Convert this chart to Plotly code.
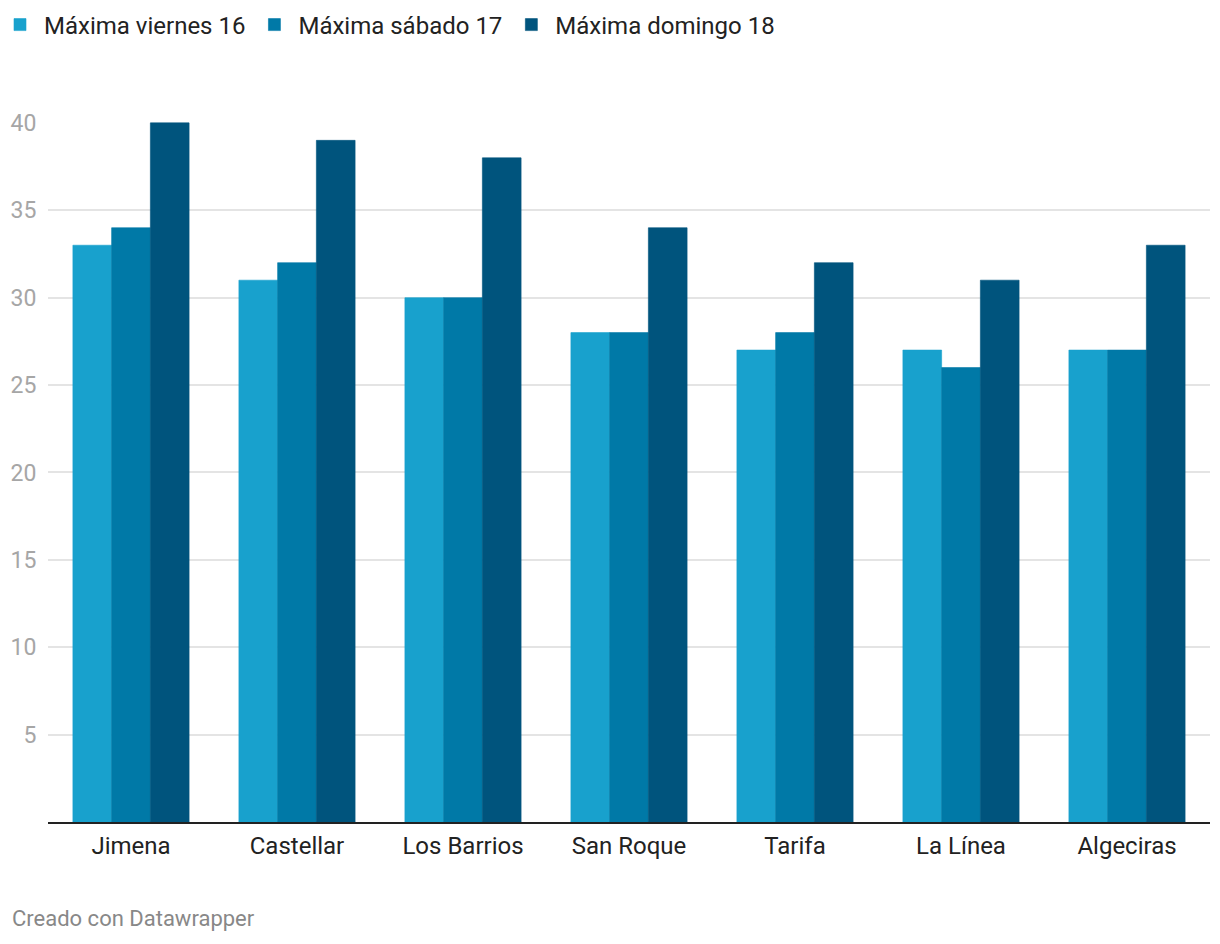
import plotly.graph_objects as go

categories = ["Jimena", "Castellar", "Los Barrios", "San Roque", "Tarifa", "La Línea", "Algeciras"]
viernes = [33, 31, 30, 28, 27, 27, 27]
sabado = [34, 32, 30, 28, 28, 26, 27]
domingo = [40, 39, 38, 34, 32, 31, 33]
series_names = ["Máxima viernes 16", "Máxima sábado 17", "Máxima domingo 18"]
colors = ["#18a1cd", "#0079a7", "#00547d"]
y_ticks = [5, 10, 15, 20, 25, 30, 35, 40]

# page has an 8px body margin, so the figure is sized to fit the window
W, H = 1212, 936
L, T, R, B = 40, 114, 10, 122
plot_w = W - L - R
plot_h = H - T - B

fig = go.Figure()
for name, vals, col in zip(series_names, [viernes, sabado, domingo], colors):
    fig.add_trace(go.Bar(x=categories, y=vals, name=name, marker_color=col,
                         marker_line_width=0.6, marker_line_color=col))

fig.update_layout(
    width=W, height=H,
    paper_bgcolor="white", plot_bgcolor="white",
    font=dict(family="Roboto", color="#222"),
    margin=dict(l=L, r=R, t=T, b=B, autoexpand=False),
    barmode="group", bargap=0.3, bargroupgap=0,
    legend=dict(orientation="h", xref="paper", yref="paper",
                x=-(L + 12) / plot_w, y=1 + (T - 17) / plot_h,
                xanchor="left", yanchor="middle",
                font=dict(size=24, color="#222"), itemwidth=38,
                traceorder="normal", tracegroupgap=0),
    xaxis=dict(showline=True, linecolor="#222", linewidth=2, automargin=False,
               tickfont=dict(size=24, color="#222"), ticks="outside",
               ticklen=1, tickcolor="rgba(0,0,0,0)", showgrid=False),
    yaxis=dict(range=[0, 40.05], tickvals=y_ticks, showgrid=True, automargin=False,
               gridcolor="#e4e4e4", gridwidth=1.5, zeroline=False,
               tickfont=dict(size=23, color="#a6a6a6"), ticks="outside",
               ticklen=6, tickcolor="rgba(0,0,0,0)"),
    showlegend=True,
)
fig.add_annotation(text="Creado con Datawrapper", xref="paper", yref="paper",
                   x=-(L - 2) / plot_w, y=-(918 - 822) / plot_h,
                   xanchor="left", yanchor="middle",
                   showarrow=False, font=dict(size=22, color="#888888"))

fig.write_html("out.html")
